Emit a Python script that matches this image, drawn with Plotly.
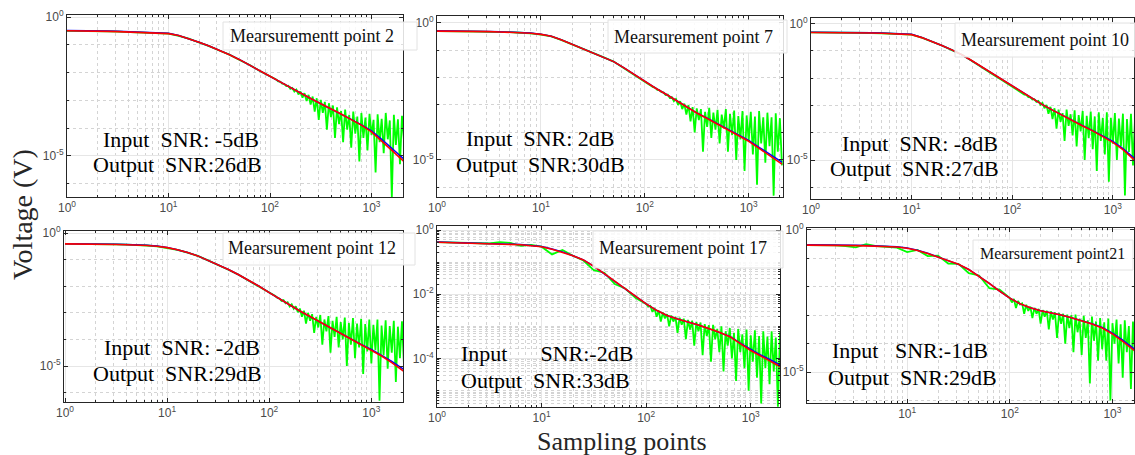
import plotly.graph_objects as go

W, H = 1135, 455

# ---------------- data (log10 of values) ----------------
RED_LOGX = [0.0, 0.1, 0.2, 0.3, 0.4, 0.5, 0.6, 0.7, 0.8, 0.9, 1.0, 1.1, 1.2, 1.3, 1.4, 1.5, 1.6,
            1.7, 1.8, 1.9, 2.0, 2.1, 2.2, 2.3, 2.4, 2.5, 2.6, 2.7, 2.8, 2.9, 3.0, 3.1, 3.2, 3.32]

GREEN_LOGX = [0.0, 0.1, 0.2, 0.3, 0.4, 0.5, 0.6, 0.7, 0.8, 0.9, 1.0, 1.1, 1.2, 1.3, 1.4, 1.5, 1.6,
              1.7, 1.8, 1.9,
              2.00, 2.02, 2.04, 2.06, 2.08, 2.10, 2.12, 2.14, 2.16, 2.18,
              2.20, 2.22, 2.24, 2.26, 2.28, 2.30, 2.32, 2.34, 2.36, 2.38,
              2.40, 2.42, 2.44, 2.46, 2.48, 2.50, 2.52, 2.54, 2.56, 2.58,
              2.60, 2.62, 2.64, 2.66, 2.68, 2.70, 2.72, 2.74, 2.76, 2.78,
              2.80, 2.82, 2.84, 2.86, 2.88, 2.90, 2.92, 2.94, 2.96, 2.98,
              3.00, 3.02, 3.04, 3.06, 3.08, 3.10, 3.12, 3.14, 3.16, 3.18,
              3.20, 3.22, 3.24, 3.26, 3.28, 3.30, 3.32]

PANEL_LABELS = ["Mearsurementt point 2", "Mearsurement point 7", "Mearsurement point 10",
                "Mearsurement point 12", "Mearsurement point 17", "Mearsurement point21"]
INPUT_TEXT = ["Input\u00a0\u00a0SNR: -5dB", "Input\u00a0\u00a0SNR: 2dB", "Input\u00a0\u00a0SNR: -8dB",
              "Input\u00a0\u00a0SNR: -2dB", "Input\u00a0\u00a0\u00a0\u00a0\u00a0\u00a0SNR:-2dB",
              "Input\u00a0\u00a0\u00a0SNR:-1dB"]
OUTPUT_TEXT = ["Output\u00a0\u00a0SNR:26dB", "Output\u00a0\u00a0SNR:30dB", "Output\u00a0\u00a0SNR:27dB",
               "Output\u00a0\u00a0SNR:29dB", "Output\u00a0\u00a0SNR:33dB", "Output\u00a0\u00a0SNR:29dB"]

RED_P1 = [-0.49, -0.49, -0.50, -0.51, -0.51, -0.52, -0.53, -0.54, -0.55, -0.56, -0.59, -0.66, -0.77,
          -0.90, -1.04, -1.19, -1.35, -1.53, -1.72, -1.93, -2.13, -2.33, -2.54, -2.74, -2.93, -3.12,
          -3.30, -3.49, -3.69, -3.89, -4.13, -4.45, -4.80, -5.20]
BLUE_P1 = [-0.48, -0.48, -0.49, -0.50, -0.50, -0.51, -0.52, -0.53, -0.54, -0.55, -0.58, -0.66, -0.77,
           -0.90, -1.04, -1.19, -1.35, -1.53, -1.72, -1.93, -2.13, -2.33, -2.54, -2.74, -2.93, -3.12,
           -3.30, -3.49, -3.68, -3.88, -4.10, -4.40, -4.74, -5.12]
GREEN_P1 = [-0.49, -0.49, -0.50, -0.50, -0.51, -0.52, -0.53, -0.54, -0.55, -0.57, -0.59, -0.67, -0.77,
            -0.91, -1.04, -1.20, -1.35, -1.54, -1.72, -1.94,
            -2.13, -2.16, -2.22, -2.24, -2.31, -2.32, -2.39, -2.40, -2.48, -2.47,
            -2.58, -2.55, -2.68, -2.61, -2.78, -2.68, -2.90, -2.74, -3.02, -2.80,
            -3.15, -2.86, -3.40, -2.92, -3.70, -2.98, -3.45, -3.05, -4.05, -3.10,
            -3.60, -3.18, -4.35, -3.25, -3.85, -3.38, -4.50, -3.33, -4.05, -3.52,
            -4.70, -3.40, -4.20, -3.58, -5.20, -3.45, -4.35, -3.62, -4.80, -3.48,
            -4.25, -3.70, -5.60, -3.50, -4.50, -3.66, -4.90, -3.45, -4.40, -3.72,
            -6.50, -3.52, -4.60, -3.68, -5.30, -3.55, -4.45]

RED_P2 = [-0.31, -0.31, -0.32, -0.32, -0.33, -0.33, -0.34, -0.35, -0.37, -0.39, -0.43, -0.50, -0.63,
          -0.79, -0.94, -1.09, -1.25, -1.42, -1.65, -1.90, -2.16, -2.38, -2.60, -2.84, -3.07, -3.29,
          -3.49, -3.69, -3.89, -4.09, -4.32, -4.58, -4.85, -5.15]
BLUE_P2 = [-0.30, -0.30, -0.31, -0.31, -0.32, -0.32, -0.33, -0.34, -0.36, -0.38, -0.42, -0.50, -0.63,
           -0.79, -0.94, -1.09, -1.25, -1.42, -1.65, -1.90, -2.16, -2.38, -2.60, -2.84, -3.07, -3.29,
           -3.48, -3.68, -3.88, -4.07, -4.29, -4.54, -4.80, -5.08]
GREEN_P2 = [-0.31, -0.31, -0.32, -0.32, -0.33, -0.34, -0.34, -0.35, -0.37, -0.39, -0.44, -0.50, -0.64,
            -0.79, -0.95, -1.09, -1.26, -1.42, -1.66, -1.90,
            -2.16, -2.19, -2.26, -2.28, -2.35, -2.37, -2.45, -2.46, -2.53, -2.54,
            -2.64, -2.62, -2.74, -2.71, -2.86, -2.78, -3.00, -2.86, -3.15, -2.95,
            -3.35, -3.00, -3.60, -3.08, -4.00, -3.12, -3.55, -3.15, -4.70, -3.25,
            -3.80, -3.10, -4.20, -3.28, -3.90, -3.18, -4.40, -3.35, -3.85, -3.15,
            -4.70, -3.32, -4.10, -3.20, -5.00, -3.40, -4.25, -3.22, -5.40, -3.38,
            -4.30, -3.25, -4.80, -3.42, -5.90, -3.22, -4.40, -3.45, -5.10, -3.28,
            -4.50, -3.45, -6.30, -3.30, -4.70, -3.48, -5.20]

RED_P3 = [-0.32, -0.32, -0.33, -0.33, -0.33, -0.34, -0.34, -0.35, -0.36, -0.38, -0.40, -0.51, -0.65,
          -0.80, -0.96, -1.14, -1.36, -1.59, -1.83, -2.07, -2.31, -2.54, -2.76, -2.97, -3.17, -3.37,
          -3.56, -3.75, -3.93, -4.13, -4.35, -4.62, -4.95, -5.35]
BLUE_P3 = [-0.31, -0.31, -0.32, -0.32, -0.32, -0.33, -0.33, -0.34, -0.35, -0.37, -0.39, -0.50, -0.64,
           -0.80, -0.96, -1.14, -1.36, -1.59, -1.83, -2.07, -2.31, -2.54, -2.76, -2.97, -3.17, -3.37,
           -3.55, -3.74, -3.92, -4.11, -4.32, -4.58, -4.89, -5.28]
GREEN_P3 = [-0.32, -0.32, -0.33, -0.33, -0.33, -0.34, -0.34, -0.35, -0.36, -0.38, -0.40, -0.51, -0.65,
            -0.80, -0.97, -1.14, -1.37, -1.59, -1.84, -2.07,
            -2.31, -2.35, -2.41, -2.44, -2.51, -2.53, -2.60, -2.61, -2.69, -2.70,
            -2.78, -2.77, -2.87, -2.83, -2.97, -2.90, -3.10, -2.98, -3.30, -3.05,
            -3.50, -3.10, -3.85, -3.15, -3.60, -3.28, -4.30, -3.15, -3.75, -3.32,
            -4.10, -3.18, -4.50, -3.35, -3.95, -3.20, -5.00, -3.38, -4.20, -3.22,
            -4.60, -3.40, -5.40, -3.25, -4.30, -3.45, -4.80, -3.25, -5.80, -3.45,
            -4.40, -3.28, -5.00, -3.48, -4.50, -3.30, -6.30, -3.50, -4.70, -3.30,
            -5.20, -3.50, -4.60, -3.35, -5.50, -3.52, -4.50]

RED_P4 = [-0.41, -0.41, -0.42, -0.42, -0.43, -0.43, -0.44, -0.45, -0.47, -0.50, -0.55, -0.63, -0.73,
          -0.86, -1.02, -1.19, -1.37, -1.57, -1.78, -2.00, -2.24, -2.48, -2.70, -2.93, -3.14, -3.35,
          -3.57, -3.79, -4.01, -4.21, -4.40, -4.62, -4.87, -5.20]
BLUE_P4 = [-0.40, -0.40, -0.41, -0.41, -0.42, -0.42, -0.43, -0.44, -0.46, -0.49, -0.54, -0.63, -0.73,
           -0.86, -1.02, -1.19, -1.37, -1.57, -1.78, -2.00, -2.24, -2.48, -2.70, -2.93, -3.14, -3.35,
           -3.56, -3.78, -4.00, -4.19, -4.37, -4.58, -4.82, -5.13]
GREEN_P4 = [-0.41, -0.41, -0.42, -0.42, -0.43, -0.43, -0.44, -0.45, -0.47, -0.50, -0.56, -0.63, -0.74,
            -0.86, -1.03, -1.19, -1.38, -1.57, -1.79, -2.01,
            -2.24, -2.28, -2.34, -2.37, -2.44, -2.46, -2.55, -2.52, -2.64, -2.60,
            -2.76, -2.68, -2.85, -2.75, -2.98, -2.84, -3.15, -2.92, -3.40, -3.00,
            -3.30, -3.05, -3.75, -3.15, -3.55, -3.08, -4.20, -3.25, -3.70, -3.12,
            -4.50, -3.30, -3.90, -3.15, -4.30, -3.35, -4.00, -3.18, -5.00, -3.38,
            -4.20, -3.20, -4.70, -3.40, -4.30, -3.22, -5.30, -3.42, -4.45, -3.25,
            -4.90, -3.45, -4.40, -3.25, -6.30, -3.48, -4.60, -3.28, -5.10, -3.50,
            -4.50, -3.30, -5.60, -3.52, -4.70, -3.32, -5.00]

RED_P5 = [-0.38, -0.39, -0.39, -0.40, -0.41, -0.42, -0.43, -0.44, -0.46, -0.49, -0.52, -0.60, -0.69,
          -0.80, -0.93, -1.13, -1.36, -1.59, -1.83, -2.06, -2.30, -2.50, -2.66, -2.77, -2.86, -2.96,
          -3.07, -3.18, -3.32, -3.54, -3.75, -3.93, -4.10, -4.32]
BLUE_P5 = [-0.37, -0.38, -0.38, -0.39, -0.40, -0.41, -0.42, -0.43, -0.45, -0.48, -0.51, -0.59, -0.68,
           -0.80, -0.93, -1.13, -1.36, -1.59, -1.83, -2.06, -2.30, -2.50, -2.66, -2.77, -2.86, -2.96,
           -3.07, -3.18, -3.31, -3.52, -3.72, -3.90, -4.06, -4.27]
GREEN_P5 = [-0.38, -0.39, -0.39, -0.40, -0.41, -0.42, -0.38, -0.40, -0.49, -0.46, -0.52, -0.76, -0.62,
            -0.80, -0.95, -1.25, -1.33, -1.68, -1.82, -2.12,
            -2.30, -2.38, -2.36, -2.55, -2.43, -2.70, -2.51, -2.85, -2.57, -2.75,
            -2.62, -3.00, -2.66, -2.85, -2.70, -3.20, -2.73, -2.95, -2.76, -3.40,
            -2.80, -3.10, -2.82, -3.60, -2.86, -3.15, -2.88, -3.90, -2.93, -3.30,
            -2.96, -4.10, -2.95, -3.40, -3.08, -3.80, -3.00, -4.40, -3.15, -3.60,
            -3.05, -4.00, -3.20, -4.70, -3.08, -3.80, -3.25, -4.30, -3.10, -5.00,
            -3.28, -4.10, -3.12, -4.60, -3.30, -5.40, -3.15, -4.30, -3.32, -4.80,
            -3.15, -4.40, -3.35, -5.50, -3.18, -4.60, -3.38]

RED_P6 = [-0.53, -0.53, -0.54, -0.54, -0.55, -0.55, -0.56, -0.57, -0.58, -0.60, -0.64, -0.72, -0.83,
          -0.95, -1.08, -1.21, -1.39, -1.62, -1.88, -2.15, -2.40, -2.60, -2.74, -2.84, -2.91, -2.99,
          -3.09, -3.20, -3.31, -3.45, -3.66, -3.92, -4.20, -4.55]
BLUE_P6 = [-0.52, -0.52, -0.53, -0.53, -0.54, -0.54, -0.55, -0.56, -0.57, -0.59, -0.63, -0.71, -0.82,
           -0.95, -1.08, -1.21, -1.39, -1.62, -1.88, -2.15, -2.40, -2.60, -2.74, -2.84, -2.91, -2.99,
           -3.09, -3.19, -3.30, -3.43, -3.63, -3.88, -4.15, -4.48]
GREEN_P6 = [-0.53, -0.53, -0.54, -0.54, -0.57, -0.61, -0.50, -0.57, -0.59, -0.62, -0.78, -0.70, -0.92,
            -0.90, -1.18, -1.19, -1.52, -1.60, -2.05, -2.10,
            -2.40, -2.55, -2.43, -2.75, -2.50, -2.62, -2.58, -2.95, -2.63, -2.85,
            -2.70, -3.10, -2.74, -2.95, -2.78, -3.30, -2.82, -3.05, -2.84, -3.50,
            -2.86, -3.15, -2.90, -3.80, -2.92, -3.30, -2.95, -4.00, -2.98, -3.45,
            -3.00, -4.30, -2.98, -3.60, -3.12, -4.40, -3.02, -3.80, -3.18, -5.40,
            -3.05, -3.90, -3.22, -4.60, -3.10, -4.20, -3.25, -4.60, -3.12, -6.00,
            -3.28, -4.00, -3.15, -4.70, -3.32, -5.20, -3.18, -4.30, -3.38, -5.60,
            -3.22, -4.50, -3.42, -4.90, -3.28, -4.40, -3.45]

REDS = [RED_P1, RED_P2, RED_P3, RED_P4, RED_P5, RED_P6]
BLUES = [BLUE_P1, BLUE_P2, BLUE_P3, BLUE_P4, BLUE_P5, BLUE_P6]
GREENS = [GREEN_P1, GREEN_P2, GREEN_P3, GREEN_P4, GREEN_P5, GREEN_P6]

X_TICKS = [1, 10, 100, 1000]
X_TICKTEXT = ["10<sup>0</sup>", "10<sup>1</sup>", "10<sup>2</sup>", "10<sup>3</sup>"]
Y_TICKS_A = [1e-5, 1]
Y_TICKTEXT_A = ["10<sup>-5</sup>", "10<sup>0</sup>"]
Y_TICKS_B = [1e-4, 1e-2, 1]
Y_TICKTEXT_B = ["10<sup>-4</sup>", "10<sup>-2</sup>", "10<sup>0</sup>"]

# ---------------- layout (pixel boxes) ----------------
# (left, right, top, bottom) in pixels
PANEL_BOX = [(67, 403, 15, 197), (437, 783, 16, 197), (811, 1134, 18, 199),
             (64, 403, 231, 402), (437, 780, 226, 407), (807, 1134, 228, 403)]
X_RANGE = [(0.0, 3.31), (0.0, 3.33), (0.0, 3.21), (-0.01, 3.31), (0.0, 3.28), (0.024, 3.21)]
Y_RANGE = [(-6.48, 0.08), (-6.35, 0.24), (-6.43, 0.21), (-6.35, 0.075), (-5.51, 0.125), (-6.09, 0.07)]
LABEL_BOX = [(223, 417, 22, 50), (608, 787, 20, 53), (955, 1140, 23, 57),
             (223, 415, 233, 265), (593, 783, 231, 268), (973, 1133, 240, 270)]
LABEL_POS = [(312, 36), (693, 37), (1045, 40), (312, 248), (683, 248), (1052, 254)]
LABEL_SIZE = [18, 18, 18, 18, 18, 16]
INPUT_POS = [(181, 139), (540, 138), (920, 143), (182, 347), (547, 353), (910, 350)]
OUTPUT_POS = [(177, 164), (540, 164), (914, 168), (177, 373), (545, 380), (912, 377)]

SERIF = "Liberation Serif, Times New Roman, serif"
SANS = "Liberation Sans, Arial, sans-serif"


def px2x(px):
    return px / W


def py2y(py):
    return 1 - py / H


x_minor = [m * 10 ** k for k in range(0, 4) for m in range(2, 10) if m * 10 ** k <= 2100]

fig = go.Figure()
for i in range(6):
    xa = "x" if i == 0 else f"x{i + 1}"
    ya = "y" if i == 0 else f"y{i + 1}"
    gx = [10 ** v for v in GREEN_LOGX]
    rx = [10 ** v for v in RED_LOGX]
    fig.add_trace(go.Scatter(x=gx, y=[10 ** v for v in GREENS[i]], mode="lines",
                             line=dict(color="#00ff00", width=1.8), xaxis=xa, yaxis=ya,
                             showlegend=False, hoverinfo="skip"))
    fig.add_trace(go.Scatter(x=rx, y=[10 ** v for v in BLUES[i]], mode="lines",
                             line=dict(color="#0000ff", width=1.5), xaxis=xa, yaxis=ya,
                             showlegend=False, hoverinfo="skip"))
    fig.add_trace(go.Scatter(x=rx, y=[10 ** v for v in REDS[i]], mode="lines",
                             line=dict(color="#ff0000", width=1.6), xaxis=xa, yaxis=ya,
                             showlegend=False, hoverinfo="skip"))

    l, r, t, b = PANEL_BOX[i]
    common = dict(type="log", showline=True, linecolor="#262626", linewidth=1, mirror="allticks",
                  ticks="inside", ticklen=4, tickcolor="#262626", showgrid=True,
                  gridcolor="#e6e6e6", gridwidth=1, zeroline=False, automargin=False,
                  tickfont=dict(family=SANS, size=12, color="#4a4a4a"), tickmode="array")
    xaxis = dict(common, domain=[px2x(l), px2x(r)], range=list(X_RANGE[i]),
                 anchor=ya, tickvals=X_TICKS, ticktext=X_TICKTEXT,
                 minor=dict(tickmode="array", tickvals=x_minor, ticks="inside", ticklen=2,
                            tickcolor="#262626", showgrid=True, gridcolor="#d4d4d4",
                            griddash="dot", gridwidth=1))
    if i == 4:
        ytv, ytt = Y_TICKS_B, Y_TICKTEXT_B
        y_minor = [m * 10.0 ** k for k in range(-6, 0) for m in range(1, 10)
                   if not (m == 1 and k in (-4, -2))]
    else:
        ytv, ytt = Y_TICKS_A, Y_TICKTEXT_A
        y_minor = [10.0 ** k for k in (-7, -6, -4, -3, -2, -1)]
    yaxis = dict(common, domain=[py2y(b), py2y(t)], range=list(Y_RANGE[i]),
                 anchor=xa, tickvals=ytv, ticktext=ytt,
                 minor=dict(tickmode="array", tickvals=y_minor, ticks="inside", ticklen=2,
                            tickcolor="#262626", showgrid=True, gridcolor="#d4d4d4",
                            griddash="dot", gridwidth=1))
    key = "" if i == 0 else str(i + 1)
    fig.layout["xaxis" + key] = xaxis
    fig.layout["yaxis" + key] = yaxis

shapes = []
annotations = []
for i in range(6):
    bl, br, bt, bb = LABEL_BOX[i]
    shapes.append(dict(type="rect", xref="paper", yref="paper", x0=px2x(bl), x1=px2x(br),
                       y0=py2y(bb), y1=py2y(bt), line=dict(color="#e2e2e2", width=1),
                       fillcolor="rgba(255,255,255,0.85)", layer="above"))
    lx, ly = LABEL_POS[i]
    annotations.append(dict(text=PANEL_LABELS[i], x=px2x(lx), y=py2y(ly), xref="paper",
                            yref="paper", showarrow=False, xanchor="center", yanchor="middle",
                            font=dict(family=SERIF, size=LABEL_SIZE[i], color="#111111")))
    ix, iy = INPUT_POS[i]
    annotations.append(dict(text=INPUT_TEXT[i], x=px2x(ix), y=py2y(iy), xref="paper",
                            yref="paper", showarrow=False, xanchor="center", yanchor="middle",
                            font=dict(family=SERIF, size=22, color="#000000")))
    ox, oy = OUTPUT_POS[i]
    annotations.append(dict(text=OUTPUT_TEXT[i], x=px2x(ox), y=py2y(oy), xref="paper",
                            yref="paper", showarrow=False, xanchor="center", yanchor="middle",
                            font=dict(family=SERIF, size=22, color="#000000")))

annotations.append(dict(text="Voltage (V)", x=px2x(22), y=py2y(215), xref="paper", yref="paper",
                        showarrow=False, textangle=-90, xanchor="center", yanchor="middle",
                        font=dict(family=SERIF, size=28, color="#262626")))
annotations.append(dict(text="Sampling points", x=px2x(622), y=py2y(441), xref="paper",
                        yref="paper", showarrow=False, xanchor="center", yanchor="middle",
                        font=dict(family=SERIF, size=26, color="#262626")))

fig.update_layout(width=W, height=H, margin=dict(l=0, r=0, t=0, b=0),
                  paper_bgcolor="white", plot_bgcolor="white", template="none",
                  shapes=shapes, annotations=annotations, showlegend=False)

fig.write_html("out.html", config={"displayModeBar": False},
               post_script="document.body.style.margin='0';document.body.style.overflow='hidden';")
